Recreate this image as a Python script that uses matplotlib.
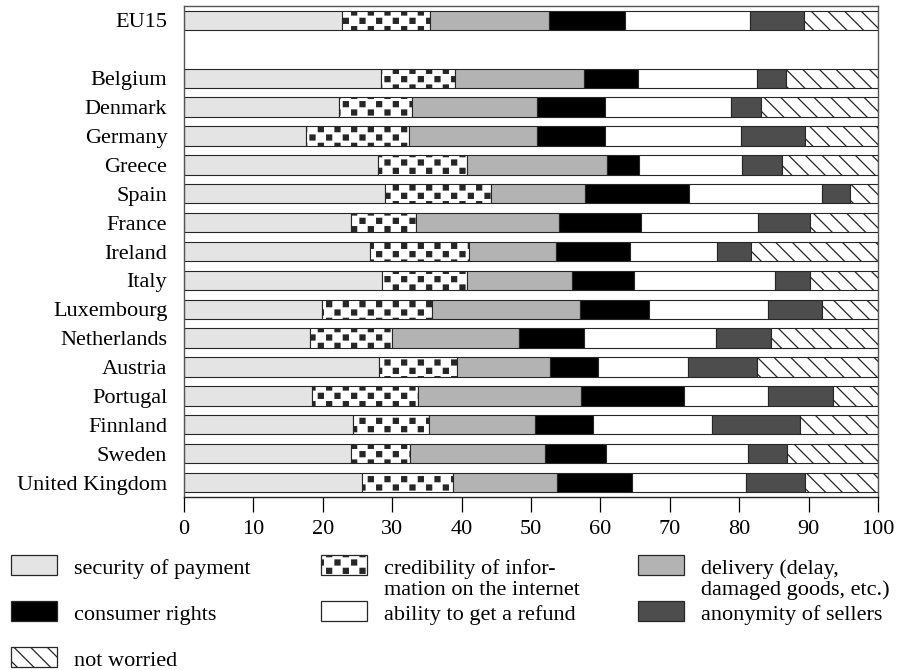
import warnings

import numpy as np
import matplotlib
matplotlib.use("Agg")
import matplotlib.pyplot as plt
import matplotlib.hatch as mhatch
from matplotlib.patches import Rectangle
from matplotlib.path import Path

warnings.filterwarnings("ignore")

COUNTRIES = ["EU15", "Belgium", "Denmark", "Germany", "Greece", "Spain",
             "France", "Ireland", "Italy", "Luxembourg", "Netherlands",
             "Austria", "Portugal", "Finnland", "Sweden", "United Kingdom"]

# share of respondents (%) per concern, same order as COUNTRIES
security = [22.8, 28.4, 22.4, 17.6, 28.0, 28.9, 24.0, 26.8, 28.6, 19.9, 18.1, 28.1, 18.4, 24.4, 24.0, 25.7]
credibility = [12.7, 10.6, 10.4, 14.8, 12.8, 15.3, 9.4, 14.2, 12.2, 15.9, 11.9, 11.3, 15.3, 10.9, 8.6, 13.0]
delivery = [17.1, 18.7, 18.0, 18.5, 20.1, 13.6, 20.6, 12.6, 15.1, 21.3, 18.2, 13.4, 23.5, 15.3, 19.4, 15.0]
consumer = [11.0, 7.7, 9.9, 9.8, 4.6, 14.9, 11.9, 10.7, 9.0, 9.9, 9.4, 6.9, 14.9, 8.3, 8.8, 10.9]
refund = [18.0, 17.1, 18.1, 19.5, 14.9, 19.3, 16.8, 12.5, 20.2, 17.2, 19.1, 12.9, 12.1, 17.2, 20.4, 16.4]
anonymity = [7.7, 4.2, 4.4, 9.3, 5.8, 3.9, 7.5, 4.9, 5.1, 7.8, 7.9, 9.9, 9.3, 12.7, 5.7, 8.5]
not_worried = [10.7, 13.3, 16.8, 10.5, 13.8, 4.1, 9.8, 18.3, 9.8, 8.0, 15.4, 17.5, 6.5, 11.2, 13.1, 10.5]

LABELS = ["security of payment",
          "credibility of infor-\nmation on the internet",
          "delivery (delay,\ndamaged goods, etc.)",
          "consumer rights",
          "ability to get a refund",
          "anonymity of sellers",
          "not worried"]
SERIES = [security, credibility, delivery, consumer, refund, anonymity, not_worried]
FACES = ["#e4e4e4", "white", "#b3b3b3", "black", "white", "#4d4d4d", "white"]
HATCHES = [None, "s", None, None, None, None, "\\\\"]

EDGE = "#262626"
FONT = "Liberation Serif"
FS = 16


class SquareDots(mhatch.HatchPatternBase):
    """Staggered small filled squares, drawn for the hatch letter 's'."""
    ncols = 6
    nrows = 12
    half = 0.025

    def __init__(self, hatch, density):
        self.on = hatch.count("s") > 0
        self.num_vertices = self.ncols * self.nrows * 5 if self.on else 0

    def set_vertices_and_codes(self, vertices, codes):
        h = self.half
        sq = np.array([[-h, -h], [h, -h], [h, h], [-h, h], [-h, -h]])
        sq_codes = [Path.MOVETO, Path.LINETO, Path.LINETO, Path.LINETO, Path.CLOSEPOLY]
        vparts, cparts = [], []
        for r in range(self.nrows):
            y = (r + 0.5) / self.nrows
            for c in range(self.ncols):
                x = (c + 0.25 + 0.5 * (r % 2)) / self.ncols
                vparts.append(sq + [x, y])
                cparts.extend(sq_codes)
        vertices[:] = np.concatenate(vparts)
        codes[:] = cparts


mhatch._hatch_types.append(SquareDots)

plt.rcParams["font.family"] = FONT
plt.rcParams["hatch.color"] = "black"
plt.rcParams["hatch.linewidth"] = 0.9

fig = plt.figure(figsize=(8.98, 6.7), dpi=100)
W, H = 898, 670
ax = fig.add_axes([184 / W, 1 - 497 / H, 694 / W, 491 / H])

ypos = np.array([0] + list(range(2, 17)))
left = np.zeros(len(COUNTRIES))
for vals, face, hatch in zip(SERIES, FACES, HATCHES):
    vals = np.array(vals)
    ax.barh(ypos, vals, left=left, height=0.67, color=face, edgecolor=EDGE,
            linewidth=0.8, hatch=hatch)
    left += vals

ax.set_xlim(0, 100)
ax.set_ylim(16.5, -0.5)
ax.set_xticks(np.arange(0, 101, 10))
ax.set_yticks(ypos)
ax.set_yticklabels(COUNTRIES)
ax.tick_params(axis="y", length=0, pad=12, labelsize=FS)
ax.tick_params(axis="x", length=10.8, width=0.9, pad=6, labelsize=FS, direction="out")
for side in ["left", "right", "top"]:
    ax.spines[side].set_color("#555555")
    ax.spines[side].set_linewidth(1.0)
ax.spines["bottom"].set_color("#222222")
ax.spines["bottom"].set_linewidth(1.0)

# legend in pixel coordinates below the axes
lax = fig.add_axes([0, 0, 1, 1])
lax.set_xlim(0, W)
lax.set_ylim(H, 0)
lax.axis("off")
col_x = [11, 321, 638]
row_y = [565, 611, 657]
for i, (lab, face, hatch) in enumerate(zip(LABELS, FACES, HATCHES)):
    cx = col_x[i % 3]
    cy = row_y[i // 3]
    lax.add_patch(Rectangle((cx, cy - 10), 46, 20, facecolor=face,
                            edgecolor=EDGE, linewidth=0.9, hatch=hatch))
    for k, line in enumerate(lab.split("\n")):
        lax.text(cx + 63, cy + 2 + 21 * k, line, fontsize=FS,
                 va="center_baseline", ha="left")

fig.savefig("out.png", dpi=100)
